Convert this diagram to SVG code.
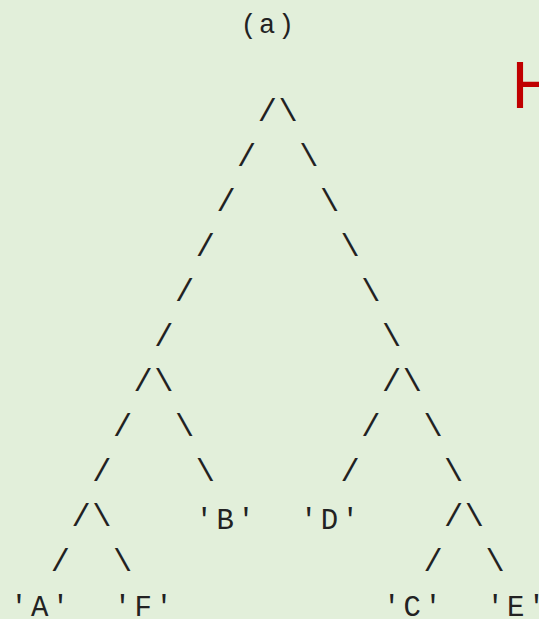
<svg xmlns="http://www.w3.org/2000/svg" width="539" height="619" viewBox="0 0 539 619">
<style>
.t{font-family:"Liberation Mono","Courier New",monospace;font-size:29px;fill:#222;text-anchor:middle}
.c{font-family:"Liberation Mono","Courier New",monospace;font-size:32px;fill:#222;text-anchor:middle}
.cap{font-family:"Liberation Mono","Courier New",monospace;font-size:27px;fill:#222;text-anchor:middle}
.h{font-family:"Liberation Sans",Arial,sans-serif;font-size:66px;fill:#c00000}
</style>
<rect width="539" height="619" fill="#e2efda"/>
<g id="title"><text class="cap" x="248.5 267 286" y="32.5">(a)</text></g>
<text class="h" x="511.5" y="108">H</text>
<g id="connectors">
<text class="c" x="267.4" y="121">/</text><text class="c" x="288.1" y="121">\</text>
<text class="c" x="246.7" y="166">/</text><text class="c" x="308.8" y="166">\</text>
<text class="c" x="226.0" y="211">/</text><text class="c" x="329.5" y="211">\</text>
<text class="c" x="205.3" y="256">/</text><text class="c" x="350.2" y="256">\</text>
<text class="c" x="184.6" y="301">/</text><text class="c" x="370.9" y="301">\</text>
<text class="c" x="163.9" y="346">/</text><text class="c" x="391.6" y="346">\</text>
<text class="c" x="143.2" y="391">/</text><text class="c" x="163.9" y="391">\</text><text class="c" x="391.6" y="391">/</text><text class="c" x="412.3" y="391">\</text>
<text class="c" x="122.5" y="436">/</text><text class="c" x="184.6" y="436">\</text><text class="c" x="370.9" y="436">/</text><text class="c" x="433.0" y="436">\</text>
<text class="c" x="101.8" y="481">/</text><text class="c" x="205.3" y="481">\</text><text class="c" x="350.2" y="481">/</text><text class="c" x="453.7" y="481">\</text>
<text class="c" x="81.1" y="526">/</text><text class="c" x="101.8" y="526">\</text><text class="c" x="453.7" y="526">/</text><text class="c" x="474.4" y="526">\</text>
<text class="c" x="60.4" y="571">/</text><text class="c" x="122.5" y="571">\</text><text class="c" x="433.0" y="571">/</text><text class="c" x="495.1" y="571">\</text>
</g>
<g id="node-B"><text class="t" x="204.3 225.3 246" y="528.5">'B'</text></g>
<g id="node-D"><text class="t" x="308.8 329.5 350.2" y="528.5">'D'</text></g>
<g id="node-A"><text class="t" x="19 39.7 60.4" y="616">'A'</text></g>
<g id="node-F"><text class="t" x="122.5 143.2 163.9" y="616">'F'</text></g>
<g id="node-C"><text class="t" x="391.6 412.3 433" y="616">'C'</text></g>
<g id="node-E"><text class="t" x="495.1 515.8 536.5" y="616">'E'</text></g>
</svg>
